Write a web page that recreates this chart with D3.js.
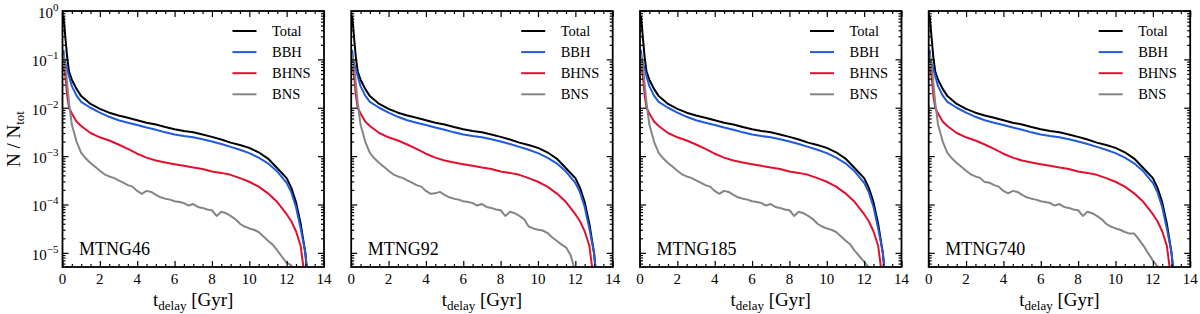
<!DOCTYPE html>
<html><head><meta charset="utf-8">
<script src="https://cdn.jsdelivr.net/npm/d3@7"></script>
<style>
html,body{margin:0;padding:0;background:#fff;}
svg, svg text{font-family:"Liberation Serif","Times New Roman","DejaVu Serif",serif;}
</style></head>
<body><svg id="chart" width="1200" height="314" font-family="Liberation Serif, DejaVu Serif, serif"></svg>
<script>
// ---------------- data ----------------
const panelNames = ["MTNG46", "MTNG92", "MTNG185", "MTNG740"];
const seriesNames = ["Total", "BBH", "BHNS", "BNS"];
const seriesColors = ["#000000", "#1f5bdc", "#e0112e", "#858585"];

const xTicks = [0, 2, 4, 6, 8, 10, 12, 14];
const yTickExps = [0, -1, -2, -3, -4, -5];

// delay-time grid (Gyr) for the smooth series
const tSmooth = [0.05, 0.1, 0.17, 0.25, 0.35, 0.5, 0.75, 1, 1.5, 2, 2.5, 3, 3.5, 4, 4.5, 5, 5.5, 6, 6.5, 7, 7.5, 8, 8.5, 9, 9.5, 10, 10.5, 11, 11.5, 12, 12.25, 12.5, 12.75, 13, 13.25];
// grid for the noisier BNS series
const tBNS = [0.05, 0.2, 0.35, 0.5, 0.75, 1, 1.25, 1.5, 1.75, 2, 2.25, 2.5, 2.75, 3, 3.25, 3.5, 3.75, 4, 4.25, 4.5, 4.75, 5, 5.25, 5.5, 5.75, 6, 6.25, 6.5, 6.75, 7, 7.25, 7.5, 7.75, 8, 8.25, 8.5, 8.75, 9, 9.25, 9.5, 9.75, 10, 10.25, 10.5, 10.75, 11, 11.25, 11.5, 11.75, 12, 12.25, 12.5];

const totalVals = [0.79, 0.5, 0.24, 0.11, 0.056, 0.038, 0.0245, 0.0174, 0.012, 0.0095, 0.0079, 0.0069, 0.0062, 0.0055, 0.0049, 0.0045, 0.0040, 0.0036, 0.0033, 0.0031, 0.0028, 0.0025, 0.0022, 0.0019, 0.0017, 0.00148, 0.0012, 0.00089, 0.00056, 0.00035, 0.00022, 0.000112, 0.00004, 0.00001, 0.000001];
const bbhVals = [0.158, 0.1, 0.079, 0.063, 0.045, 0.028, 0.0178, 0.0132, 0.0100, 0.0079, 0.0065, 0.0055, 0.0049, 0.0044, 0.0039, 0.0035, 0.0031, 0.0028, 0.0026, 0.00245, 0.00224, 0.0020, 0.00178, 0.00155, 0.00135, 0.00115, 0.00093, 0.00071, 0.00048, 0.00028, 0.000178, 0.000089, 0.000032, 0.00001, 0.000001];
const bhnsVals = [0.071, 0.063, 0.04, 0.0178, 0.010, 0.0076, 0.0052, 0.0042, 0.0030, 0.00245, 0.0021, 0.00174, 0.00141, 0.00112, 0.00093, 0.00081, 0.00074, 0.00068, 0.00063, 0.00058, 0.00054, 0.00048, 0.00045, 0.00041, 0.00035, 0.000295, 0.000234, 0.00017, 0.000112, 0.000063, 0.000045, 0.000028, 0.000014, 0.0000025, 0.0000005];
const bnsVals46 = [0.126, 0.05, 0.0126, 0.0045, 0.002, 0.00117, 0.00089, 0.00072, 0.0006, 0.0005, 0.00042, 0.00038, 0.000355, 0.000316, 0.000282, 0.000251, 0.000234, 0.000191, 0.000166, 0.000191, 0.000182, 0.000158, 0.000141, 0.000132, 0.000126, 0.000117, 0.000112, 0.000107, 0.000095, 0.000102, 0.000089, 0.000085, 0.000079, 0.000076, 0.000058, 0.000071, 0.000066, 0.000058, 0.00005, 0.00004, 0.000035, 0.000032, 0.00003, 0.000027, 0.000022, 0.0000178, 0.0000148, 0.0000112, 0.0000083, 0.0000063, 0.0000055, 0.0000025];
const bnsVals92 = [0.126, 0.05, 0.0126, 0.0045, 0.002, 0.00117, 0.00089, 0.00072, 0.0006, 0.0005, 0.00042, 0.00038, 0.000355, 0.000316, 0.000282, 0.000251, 0.000234, 0.000191, 0.000166, 0.00017, 0.000182, 0.000158, 0.000141, 0.000132, 0.000126, 0.000117, 0.000112, 0.000107, 0.000095, 0.000102, 0.000089, 0.000085, 0.000079, 0.000076, 0.000058, 0.000071, 0.000066, 0.000058, 0.00005, 0.000035, 0.000032, 0.00003, 0.000029, 0.000026, 0.000021, 0.0000178, 0.000015, 0.000013, 0.0000089, 0.000004, 0.000002, 0.000001];
const bnsVals185 = [0.126, 0.05, 0.0126, 0.0045, 0.002, 0.00117, 0.00089, 0.00072, 0.0006, 0.0005, 0.00042, 0.00038, 0.000355, 0.000316, 0.000282, 0.000251, 0.000234, 0.000191, 0.000166, 0.000191, 0.000182, 0.000158, 0.000141, 0.000132, 0.000126, 0.000117, 0.000112, 0.000107, 0.000095, 0.000102, 0.000089, 0.000085, 0.000079, 0.000076, 0.000058, 0.000071, 0.000066, 0.000058, 0.00005, 0.00004, 0.000035, 0.000032, 0.00003, 0.000027, 0.000022, 0.000018, 0.000015, 0.000011, 0.0000085, 0.0000065, 0.000005, 0.000002];
const bnsVals740 = [0.126, 0.05, 0.0126, 0.0045, 0.002, 0.00117, 0.00089, 0.00072, 0.0006, 0.0005, 0.00042, 0.00038, 0.000355, 0.00029, 0.000282, 0.000251, 0.000234, 0.000191, 0.00017, 0.000191, 0.000182, 0.000158, 0.000141, 0.000132, 0.000126, 0.000117, 0.000112, 0.000107, 0.000095, 0.000102, 0.000089, 0.000085, 0.000079, 0.000076, 0.000058, 0.000071, 0.000066, 0.000058, 0.00005, 0.00004, 0.000035, 0.000032, 0.00003, 0.000027, 0.000025, 0.000025, 0.000019, 0.000014, 0.0000098, 0.000007, 0.0000052, 0.000002];
const bnsByPanel = [bnsVals46, bnsVals92, bnsVals185, bnsVals740];

// ---------------- layout ----------------
const FONT = "Liberation Serif, Times New Roman, DejaVu Serif, serif";
const svg = d3.select("#chart");
const panelLeft = [62.5, 351.2, 640, 928.7];
const topY = 11, pw = 261.5, ph = 256;
const yMin = 5.1e-6, yMax = 1;

const x = d3.scaleLinear().domain([0, 14]).range([0, pw]);
const y = d3.scaleLog().domain([yMin, yMax]).range([ph, 0]);

const xMinor = d3.range(0, 14.01, 0.5).filter(v => v % 2 !== 0);
const yMinor = [];
for (let e = -6; e < 0; e++) for (let m = 2; m <= 9; m++) { const v = m * Math.pow(10, e); if (v >= yMin && v <= yMax) yMinor.push(v); }
const yMajor = yTickExps.map(e => Math.pow(10, e));

const line = d3.line().x(d => x(d[0])).y(d => y(d[1]));

const defs = svg.append("defs");
defs.append("clipPath").attr("id", "clip").append("rect").attr("x", 0).attr("y", 0).attr("width", pw).attr("height", ph);

panelNames.forEach((name, i) => {
  const seriesData = [
    d3.zip(tSmooth, totalVals),
    d3.zip(tSmooth, bbhVals),
    d3.zip(tSmooth, bhnsVals),
    d3.zip(tBNS, bnsByPanel[i])
  ];
  const g = svg.append("g").attr("transform", `translate(${panelLeft[i]},${topY})`);

  // curves
  const cg = g.append("g").attr("clip-path", "url(#clip)");
  seriesData.forEach((d, k) => {
    cg.append("path").datum(d).attr("d", line).attr("fill", "none")
      .attr("stroke", seriesColors[k]).attr("stroke-width", 2).attr("stroke-linejoin", "round");
  });

  // ticks (inward) on all sides
  const styleAxis = sel => { sel.select(".domain").remove(); sel.selectAll("line").attr("stroke", "#000").attr("stroke-width", 1.2); sel.selectAll("text").remove(); };
  g.append("g").attr("transform", `translate(0,${ph})`).call(d3.axisBottom(x).tickValues(xTicks).tickSize(-6)).call(styleAxis);
  g.append("g").attr("transform", `translate(0,${ph})`).call(d3.axisBottom(x).tickValues(xMinor).tickSize(-3)).call(styleAxis);
  g.append("g").call(d3.axisTop(x).tickValues(xTicks).tickSize(-6)).call(styleAxis);
  g.append("g").call(d3.axisTop(x).tickValues(xMinor).tickSize(-3)).call(styleAxis);
  g.append("g").call(d3.axisLeft(y).tickValues(yMajor).tickSize(-6)).call(styleAxis);
  g.append("g").call(d3.axisLeft(y).tickValues(yMinor).tickSize(-3)).call(styleAxis);
  g.append("g").attr("transform", `translate(${pw},0)`).call(d3.axisRight(y).tickValues(yMajor).tickSize(-6)).call(styleAxis);
  g.append("g").attr("transform", `translate(${pw},0)`).call(d3.axisRight(y).tickValues(yMinor).tickSize(-3)).call(styleAxis);

  // frame
  g.append("rect").attr("x", 0).attr("y", 0).attr("width", pw).attr("height", ph)
    .attr("fill", "none").attr("stroke", "#000").attr("stroke-width", 1.8);

  // x tick labels
  g.selectAll(".xl").data(xTicks).enter().append("text")
    .attr("x", d => x(d)).attr("y", ph + 17).attr("text-anchor", "middle")
    .attr("font-family", FONT).attr("font-size", 15).text(d => d);

  // x label
  const xl = g.append("text").attr("x", pw / 2).attr("y", ph + 39).attr("text-anchor", "middle")
    .attr("font-family", FONT).attr("font-size", 19);
  xl.append("tspan").text("t");
  xl.append("tspan").attr("font-size", 13).attr("dy", 4).text("delay");
  xl.append("tspan").attr("dy", -4).text(" [Gyr]");

  // y tick labels (first panel only)
  if (i === 0) {
    yTickExps.forEach(e => {
      const t = g.append("text").attr("x", -4).attr("y", y(Math.pow(10, e)) + 7).attr("text-anchor", "end")
        .attr("font-family", FONT).attr("font-size", 15);
      t.append("tspan").text("10");
      t.append("tspan").attr("font-size", 11).attr("dy", -7).text(e === 0 ? "0" : "\u2212" + (-e));
    });
    const yl = svg.append("text").attr("transform", `translate(20,${topY + ph / 2}) rotate(-90)`)
      .attr("text-anchor", "middle").attr("font-family", FONT).attr("font-size", 19);
    yl.append("tspan").text("N / N");
    yl.append("tspan").attr("font-size", 13).attr("dy", 4).text("tot");
  }

  // legend
  seriesNames.forEach((s, k) => {
    const ly = 20 + k * 21.1;
    g.append("line").attr("x1", 170).attr("x2", 194).attr("y1", ly).attr("y2", ly)
      .attr("stroke", seriesColors[k]).attr("stroke-width", 2);
    g.append("text").attr("x", 209.5).attr("y", ly + 5).attr("font-family", FONT).attr("font-size", 14.5).text(s);
  });

  // panel name
  g.append("text").attr("x", 16.5).attr("y", 244).attr("font-family", FONT).attr("font-size", 18).text(name);
});
</script></body></html>
